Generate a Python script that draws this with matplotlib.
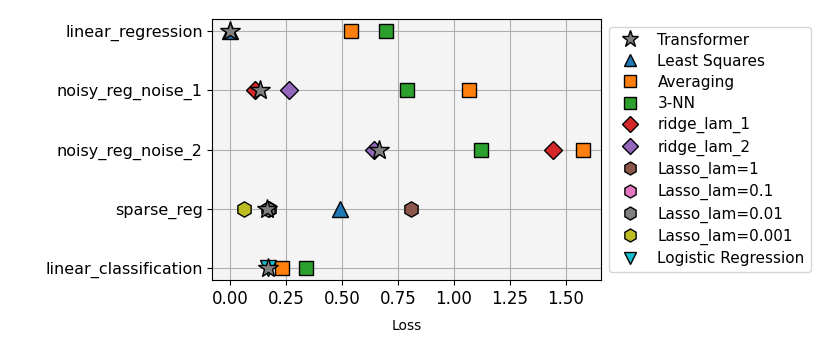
import matplotlib
matplotlib.use("Agg")
import matplotlib.pyplot as plt

# tasks, top to bottom
tasks = ["linear_regression", "noisy_reg_noise_1", "noisy_reg_noise_2",
         "sparse_reg", "linear_classification"]

# loss per model, one entry per task (None = not evaluated)
transformer  = [0.00, 0.134, 0.664, 0.164, 0.171]
least_sq     = [0.00, None, None, 0.490, None]
averaging    = [0.541, 1.066, 1.577, None, 0.231]
knn3         = [0.698, 0.790, 1.121, None, 0.340]
ridge_1      = [None, 0.112, 1.443, None, None]
ridge_2      = [None, 0.264, 0.641, None, None]
lasso_1      = [None, None, None, 0.808, None]
lasso_01     = [None, None, None, 0.173, None]
lasso_001    = [None, None, None, 0.168, None]
lasso_0001   = [None, None, None, 0.063, None]
logistic     = [None, None, None, None, 0.167]

models = [
    ("Transformer", transformer, "*", "tab:gray", 15, 5),
    ("Least Squares", least_sq, "^", "tab:blue", 11, 3),
    ("Averaging", averaging, "s", "tab:orange", 10, 3),
    ("3-NN", knn3, "s", "tab:green", 10, 3),
    ("ridge_lam_1", ridge_1, "D", "tab:red", 9, 3),
    ("ridge_lam_2", ridge_2, "D", "tab:purple", 9, 3),
    ("Lasso_lam=1", lasso_1, "h", "tab:brown", 11, 3),
    ("Lasso_lam=0.1", lasso_01, "h", "tab:pink", 11, 3),
    ("Lasso_lam=0.01", lasso_001, "h", "tab:gray", 11, 3),
    ("Lasso_lam=0.001", lasso_0001, "h", "tab:olive", 11, 3),
    ("Logistic Regression", logistic, "v", "tab:cyan", 11, 3),
]

fig, ax = plt.subplots(figsize=(8.3, 3.56), dpi=100)
ax.set_facecolor("#f4f4f4")

for name, vals, m, c, ms, z in models:
    xs = [v for v in vals if v is not None]
    ys = [i for i, v in enumerate(vals) if v is not None]
    ax.plot(xs, ys, linestyle="none", marker=m, color=c, markersize=ms,
            markeredgecolor="black", markeredgewidth=1.0, label=name, zorder=z)

ax.set_yticks(range(len(tasks)))
ax.set_yticklabels(tasks, fontsize=11.5)
ax.invert_yaxis()
ax.tick_params(axis="x", labelsize=12)
ax.set_xlabel("Loss", fontsize=10, labelpad=8)
ax.grid(True, color="#b0b0b0", linewidth=0.8)
ax.set_axisbelow(True)

ax.legend(loc="upper left", bbox_to_anchor=(1.0, 1.0), fontsize=11,
          markerscale=0.85, labelspacing=0.4)
fig.subplots_adjust(left=0.256, right=0.724, top=0.947, bottom=0.213)
fig.savefig("out.png", dpi=100)
